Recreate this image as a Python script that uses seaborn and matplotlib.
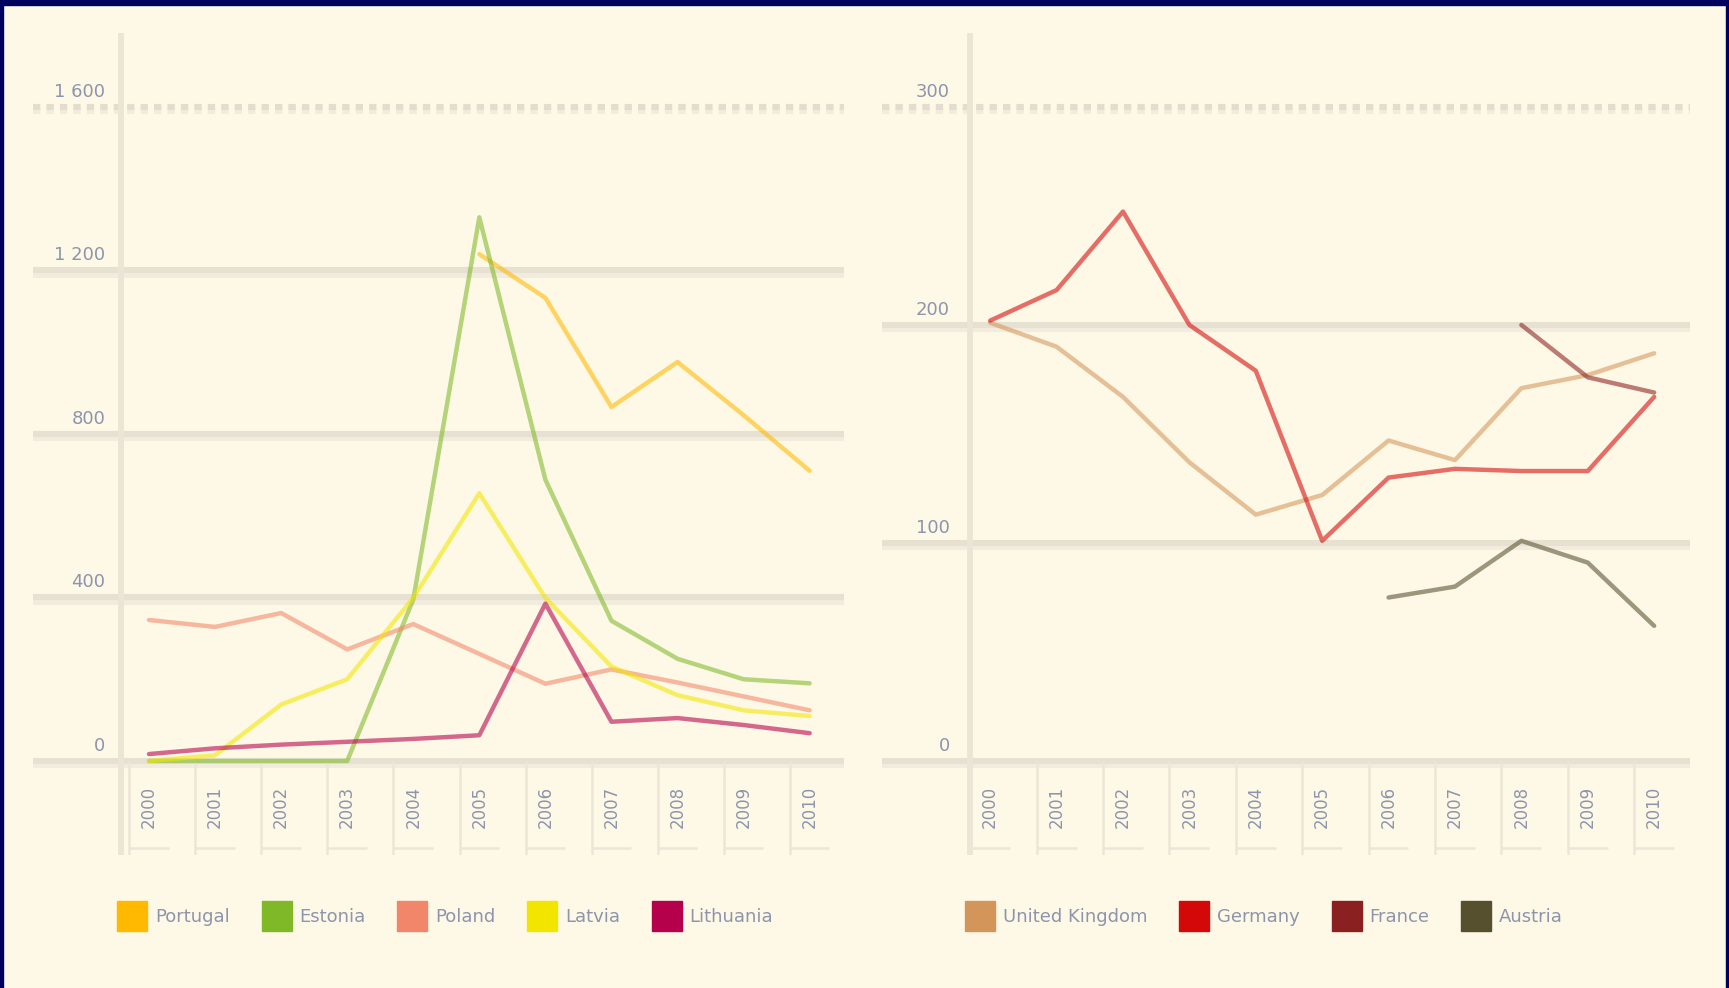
import numpy as np
import pandas as pd
import matplotlib
matplotlib.use("Agg")
import matplotlib.pyplot as plt
import matplotlib.patheffects as pe
import matplotlib.transforms as mtransforms
from matplotlib.lines import Line2D
from matplotlib.patches import Rectangle
import seaborn as sns

nan = np.nan
# ---------------- data ----------------
years = ["2000", "2001", "2002", "2003", "2004", "2005", "2006", "2007", "2008", "2009", "2010"]

left_countries = ["Portugal", "Estonia", "Poland", "Latvia", "Lithuania"]
portugal = [nan, nan, nan, nan, nan, 1240, 1133, 866, 976, 846, 710]
estonia = [0, 0, 0, 0, 395, 1330, 688, 343, 250, 200, 190]
poland = [345, 328, 362, 273, 335, 262, 189, 224, 192, 158, 124]
latvia = [0, 14, 138, 200, 399, 655, 399, 231, 161, 124, 110]
lithuania = [17, 31, 40, 47, 54, 63, 385, 96, 105, 88, 68]

right_countries = ["United Kingdom", "Germany", "France", "Austria"]
uk = [201, 190, 167, 137, 113, 122, 147, 138, 171, 177, 187]
germany = [202, 216, 252, 200, 179, 101, 130, 134, 133, 133, 167]
france = [nan, nan, nan, nan, nan, nan, nan, nan, 200, 176, 169]
austria = [nan, nan, nan, nan, nan, nan, 75, 80, 101, 91, 62]

left_ticks = [0, 400, 800, 1200, 1600]
left_ticklabels = ["0", "400", "800", "1 200", "1 600"]
right_ticks = [0, 100, 200, 300]
right_ticklabels = ["0", "100", "200", "300"]

left_colors = ["#ffb900", "#80b928", "#f2866a", "#f2e600", "#b5004b"]
right_colors = ["#d4955a", "#d40808", "#8b2020", "#56502f"]


def long_df(countries, series):
    rows = []
    for c, vals in zip(countries, series):
        for i, v in enumerate(vals):
            if not np.isnan(v):
                rows.append({"idx": i, "year": years[i], "country": c, "value": v})
    return pd.DataFrame(rows)


df_left = long_df(left_countries, [portugal, estonia, poland, latvia, lithuania])
df_right = long_df(right_countries, [uk, germany, france, austria])

# ---------------- style ----------------
sns.set_theme(style="white")
BG = "#fef9e7"
GRID = "#e7e1d2"
TXT = "#8e94ab"
plt.rcParams["font.family"] = ["DejaVu Sans"]

W, H = 1729, 988
fig = plt.figure(figsize=(W / 100, H / 100), dpi=100, facecolor=BG)


def fx(px):
    return px / W


def fy(py):
    return 1 - py / H


# axes placement (pixel based)
ax_l = fig.add_axes([fx(33), fy(855), fx(844 - 33), (855 - 33) / H])
ax_r = fig.add_axes([fx(882), fy(855), fx(1690 - 882), (855 - 33) / H])


def style_axis(ax, df, countries, colors, ticks, ticklabels, ylim, xlim, vline_x, ypad):
    ax.set_facecolor(BG)
    for s in ax.spines.values():
        s.set_visible(False)
    ax.set_xlim(*xlim)
    ax.set_ylim(*ylim)

    # gridlines with soft shadow
    for t in ticks:
        if t == ticks[-1]:
            ax.axhline(t, color="#e3ddcd", lw=4.4, ls=(0, (1.2, 1.0)), zorder=1,
                       path_effects=[pe.SimpleLineShadow(offset=(0, -3), shadow_color="#f1ecdd", alpha=1), pe.Normal()])
        else:
            ax.axhline(t, color=GRID, lw=4.4, zorder=1,
                       path_effects=[pe.SimpleLineShadow(offset=(0, -3), shadow_color="#f1ecdd", alpha=1), pe.Normal()])
    ax.axvline(vline_x, color="#ebe5d6", lw=4.2, zorder=1)

    # label boxes below the axis
    n = len(years)
    for i in range(n):
        ax.vlines(i - 0.3, ylim[0], ticks[0], colors="#ece6d8", lw=1.8, zorder=1)
        ax.hlines(ylim[0] + (ticks[0] - ylim[0]) * 0.07, i - 0.3, i + 0.3, colors="#ece6d8", lw=1.8, zorder=1)

    pal = dict(zip(countries, colors))
    sns.lineplot(data=df, x="idx", y="value", hue="country", hue_order=countries, palette=pal,
                 ax=ax, legend=False, linewidth=3.2, alpha=0.58, zorder=3, sort=True)

    ax.set_xlabel("")
    ax.set_ylabel("")
    ax.set_xticks(range(n))
    ax.set_xticklabels(years, rotation=90, color=TXT, fontsize=12)
    ax.tick_params(axis="x", length=0, pad=-50)
    ax.set_yticks(ticks)
    ax.set_yticklabels(ticklabels, color=TXT, fontsize=13, va="center")
    ax.tick_params(axis="y", length=0, pad=ypad)
    off = mtransforms.ScaledTranslation(0, 15 / 100, fig.dpi_scale_trans)
    for lab in ax.get_yticklabels():
        lab.set_transform(lab.get_transform() + off)
    ax.grid(False)


style_axis(ax_l, df_left, left_countries, left_colors, left_ticks, left_ticklabels,
           ylim=(-230, 1781), xlim=(-1.756, 10.52), vline_x=-0.42, ypad=-52)
style_axis(ax_r, df_right, right_countries, right_colors, right_ticks, right_ticklabels,
           ylim=(-43.1, 333.9), xlim=(-1.63, 10.54), vline_x=-0.30, ypad=-49)

# legends
def make_legend(countries, colors, x_px):
    handles = [Line2D([0], [0], marker="s", ls="none", markersize=22, markerfacecolor=c,
                      markeredgecolor=c) for c in colors]
    leg = fig.legend(handles, countries, loc="center left", bbox_to_anchor=(fx(x_px), fy(917)),
                     ncol=len(countries), frameon=False, fontsize=13, handlelength=1.6,
                     handletextpad=0.45, columnspacing=1.8, borderpad=0, borderaxespad=0)
    for t in leg.get_texts():
        t.set_color(TXT)
    return leg


make_legend(left_countries, left_colors, 118)
make_legend(right_countries, right_colors, 966)

# navy frame
navy = "#00005e"
fig.patches.append(Rectangle((0, fy(5)), 1, 5 / H, transform=fig.transFigure, color=navy, zorder=10))
fig.patches.append(Rectangle((0, 0), fx(3), 1, transform=fig.transFigure, color=navy, zorder=10))
fig.patches.append(Rectangle((1 - fx(3), 0), fx(3), 1, transform=fig.transFigure, color=navy, zorder=10))

fig.savefig("out.png", dpi=100, facecolor=BG)
